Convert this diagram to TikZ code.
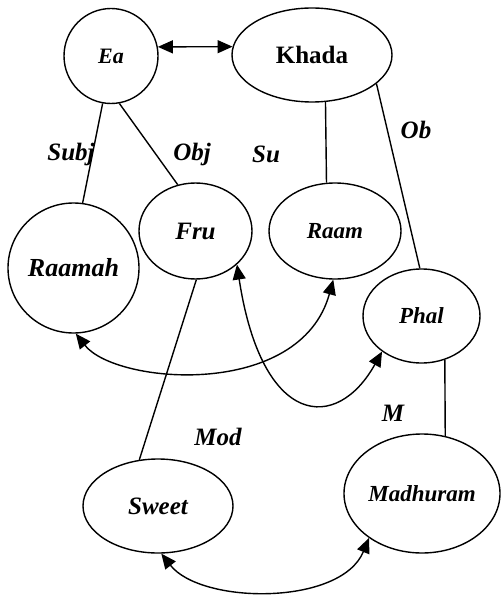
\documentclass[tikz,border=0pt]{standalone}
\usepackage{fontspec}
\setmainfont{Liberation Serif}
\usetikzlibrary{shapes.geometric,arrows.meta}
\begin{document}
\begin{tikzpicture}[x=1pt,y=-1pt,
  concept/.style={draw,ellipse,line width=1.4pt,inner sep=0pt,
    font=\fontsize{24}{24}\selectfont\bfseries\itshape},
  link/.style={line width=1.4pt},
  rel/.style={line width=1.4pt,{Triangle[length=15pt,width=13pt]}-{Triangle[length=15pt,width=13pt]}},
  lbl/.style={font=\fontsize{25}{25}\selectfont\bfseries\itshape,inner sep=0pt}]
\useasboundingbox (0,0) rectangle (500,596);

% concept nodes
\node[concept,minimum width=94pt,minimum height=95pt,font=\fontsize{22}{22}\selectfont\bfseries\itshape] (ea) at (111,56) {Ea};
\node[concept,minimum width=160pt,minimum height=94pt,font=\fontsize{25}{25}\selectfont\bfseries] (khada) at (312,55) {Khada};
\node[concept,minimum width=131pt,minimum height=130pt,font=\fontsize{26}{26}\selectfont\bfseries\itshape] (raamah) at (73.5,268) {Raamah};
\node[concept,minimum width=113pt,minimum height=96pt,font=\fontsize{25}{25}\selectfont\bfseries\itshape] (fru) at (195.5,231) {Fru};
\node[concept,minimum width=132pt,minimum height=96pt,font=\fontsize{23}{23}\selectfont\bfseries\itshape] (raam) at (335,231) {Raam};
\node[concept,minimum width=117pt,minimum height=94pt,font=\fontsize{23}{23}\selectfont\bfseries\itshape] (phal) at (421.5,316) {Phal};
\node[concept,minimum width=150pt,minimum height=94pt,font=\fontsize{25}{25}\selectfont\bfseries\itshape] (sweet) at (158,506) {Sweet};
\node[concept,minimum width=156pt,minimum height=119pt,font=\fontsize{23}{23}\selectfont\bfseries\itshape] (madhuram) at (422,493.5) {Madhuram};

% plain links
\draw[link] (ea.-100) -- (raamah.82);
\draw[link] (ea.-80) -- (fru.111);
\draw[link] (khada.-74) -- (raam.100);
\draw[link] (khada.-24) -- (phal.92);
\draw[link] (fru.-89) -- (sweet.112);
\draw[link] (phal.-62) -- (madhuram.68);

% two-way relations
\draw[rel] (ea.11) -- (khada.174);
\draw[rel] (raamah.-88) .. controls +(40,51) and +(-33,120) .. (raam.-92);
\draw[rel] (fru.-39) .. controls +(25,164) and +(-45,81) .. (phal.222);
\draw[rel] (sweet.-86) .. controls +(40,51) and +(-28,68) .. (madhuram.220);

% relation labels
\node[lbl] (subj) at (71,154) {Subj};
\node[lbl] (obj) at (192,154) {Obj};
\node[lbl] (su) at (266,154) {Su};
\node[lbl] (ob) at (416,130) {Ob};
\node[lbl] (mod) at (218,437) {Mod};
\node[lbl] (m) at (393,413) {M};
\end{tikzpicture}
\end{document}
